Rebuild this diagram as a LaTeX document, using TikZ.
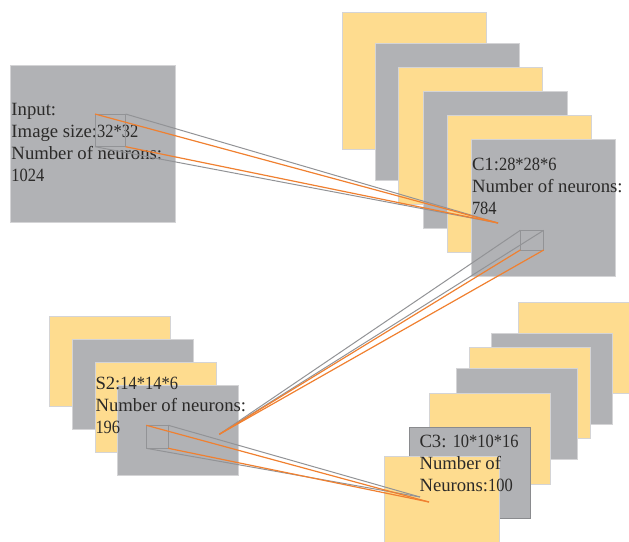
\documentclass[tikz,border=0pt]{standalone}
\usepackage{fontspec}
\setmainfont{Liberation Serif}
\definecolor{panelgray}{HTML}{B1B2B5}
\definecolor{panelyellow}{HTML}{FEDC8F}
\definecolor{paneledge}{HTML}{D4D4D6}
\definecolor{darkedge}{HTML}{8A8B8E}
\definecolor{linegray}{HTML}{929396}
\definecolor{lineorange}{HTML}{F08030}
\definecolor{labeltext}{HTML}{2B2A29}
\tikzset{
  panel/.style={draw=paneledge,line width=1pt,inner sep=0pt,outer sep=0pt,anchor=north west},
  graypanel/.style={panel,fill=panelgray},
  yellowpanel/.style={panel,fill=panelyellow},
  s2size/.style={minimum width=121pt,minimum height=90pt},
  c1size/.style={minimum width=144pt,minimum height=137pt},
  c3size/.style={minimum width=121pt,minimum height=91pt},
  probe/.style={draw=linegray,line width=1pt,inner sep=0pt,outer sep=0pt,anchor=north west},
  graylink/.style={draw=linegray,line width=1pt},
  orangelink/.style={draw=lineorange,line width=1.2pt},
  label/.style={inner sep=0pt,outer sep=0pt,anchor=north west,align=left,text=labeltext,font=\fontsize{18.7}{22}\selectfont}
}
\newcommand{\firstline}{\rule{0pt}{15pt}}
\newcommand{\digs}[1]{{\addfontfeature{FakeStretch=0.88}#1}}
\begin{document}
\begin{tikzpicture}[x=1pt,y=-1pt]
\useasboundingbox (0,0) rectangle (629,541);
% Input
\node[graypanel,minimum width=165pt,minimum height=157pt] (input) at (10.5,65) {};
% C1 stack
\node[yellowpanel,c1size] (cA) at (342.5,12) {};
\node[graypanel,c1size] (cB) at (375,43) {};
\node[yellowpanel,c1size] (cC) at (398.5,67) {};
\node[graypanel,c1size] (cD) at (423,91) {};
\node[yellowpanel,c1size] (cE) at (447,115) {};
\node[graypanel,c1size] (cF) at (471,139) {};
% S2 stack
\node[yellowpanel,s2size] (sA) at (49.5,316.5) {};
\node[graypanel,s2size] (sB) at (72.5,339.5) {};
\node[yellowpanel,s2size] (sC) at (95,362) {};
\node[graypanel,s2size] (sD) at (117.5,385) {};
% C3 stack
\node[yellowpanel,c3size,minimum width=112pt] (tA) at (518,302.5) {};
\node[graypanel,c3size] (tB) at (491,333.5) {};
\node[yellowpanel,c3size] (tC) at (469.5,347.5) {};
\node[graypanel,c3size] (tD) at (456,368) {};
\node[yellowpanel,c3size] (tE) at (429,393) {};
\node[graypanel,c3size,draw=darkedge] (tF) at (409,427) {};
\node[yellowpanel,minimum width=115pt,minimum height=86pt] (tG) at (384,456) {};
% Labels
\node[label] (inputlabel) at (11.5,100.5) {\firstline Input:\\Image size:\digs{32*32}\\Number of neurons:\\\digs{1024}};
\node[label] (c1label) at (472,155) {\firstline C1:\digs{28*28*6}\\Number of neurons:\\\digs{784}};
\node[label] (s2label) at (95.5,374.5) {\firstline S2:\digs{14*14*6}\\Number of neurons:\\\digs{196}};
\node[label] (c3label) at (419.5,432) {\firstline C3: \digs{10*10*16}\\Number of\\Neurons:\digs{100}};
% Probe boxes
\node[probe,minimum width=30.5pt,minimum height=32.7pt] (inbox) at (95,114) {};
\node[probe,minimum width=23.4pt,minimum height=19.7pt] (c1box) at (520.3,230.3) {};
\node[probe,minimum width=22pt,minimum height=23pt] (s2box) at (146.3,425.3) {};
% Convergence points
\coordinate (c1tip) at (498,223);
\coordinate (s2tip) at (219.3,434.3);
\coordinate (c3tip) at (429,502);
\coordinate (c3graytip) at (420,497);
% Connectors
\draw[graylink] (inbox.north east) -- (c1tip);
\draw[graylink] (inbox.south west) -- (c1tip);
\draw[graylink] (c1box.north west) -- (s2tip);
\draw[graylink] (c1box.north east) -- (s2tip);
\draw[graylink] (s2box.north east) -- (c3graytip);
\draw[graylink] (s2box.south west) -- (c3graytip);
\draw[orangelink] (inbox.north west) -- (c1tip);
\draw[orangelink] (inbox.south east) -- (c1tip);
\draw[orangelink] (c1box.south west) -- (s2tip);
\draw[orangelink] (c1box.south east) -- (s2tip);
\draw[orangelink] (s2box.north west) -- (c3tip);
\draw[orangelink] (s2box.south east) -- (c3tip);
\end{tikzpicture}
\end{document}
